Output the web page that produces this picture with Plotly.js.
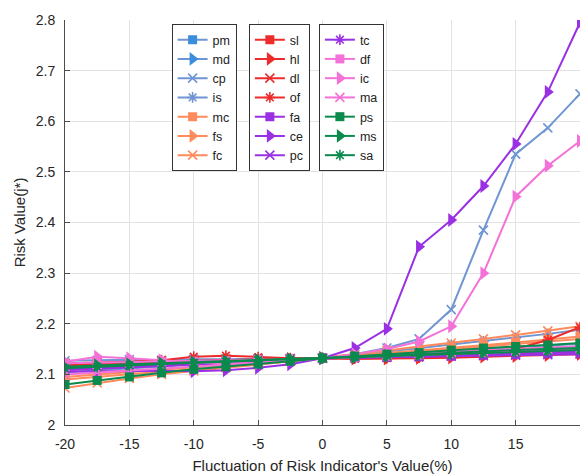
<!DOCTYPE html>
<html>
<head>
<meta charset="utf-8">
<script src="https://cdn.plot.ly/plotly-3.0.1.min.js"></script>
<style>html,body{margin:0;padding:0;background:#fff}#chart{width:587px;height:474px}</style>
</head>
<body>
<div id="chart"></div>
<script>
const xVals = [-20,-17.5,-15,-12.5,-10,-7.5,-5,-2.5,0,2.5,5,7.5,10,12.5,15,17.5,20];
const xTicks = [-20,-15,-10,-5,0,5,10,15,20];
const yTicks = [2,2.1,2.2,2.3,2.4,2.5,2.6,2.7,2.8];

const seriesNames = ["pm","md","cp","is","mc","fs","fc","sl","hl","dl","of","fa","ce","pc","tc","df","ic","ma","ps","ms","sa"];

const pm = [2.115,2.117,2.119,2.121,2.123,2.125,2.127,2.13,2.132,2.135,2.139,2.143,2.147,2.151,2.154,2.157,2.16];
const md = [2.118,2.12,2.122,2.123,2.125,2.127,2.129,2.13,2.132,2.135,2.138,2.141,2.144,2.147,2.15,2.152,2.155];
const cp = [2.127,2.128,2.129,2.128,2.13,2.13,2.131,2.131,2.132,2.14,2.152,2.17,2.228,2.385,2.535,2.587,2.654];
const is = [2.104,2.108,2.112,2.116,2.12,2.123,2.126,2.129,2.132,2.138,2.145,2.152,2.158,2.165,2.172,2.18,2.188];
const mc = [2.095,2.1,2.105,2.11,2.114,2.118,2.122,2.127,2.132,2.137,2.142,2.147,2.152,2.158,2.163,2.169,2.175];
const fs = [2.09,2.095,2.1,2.105,2.11,2.115,2.12,2.126,2.132,2.136,2.141,2.145,2.15,2.155,2.16,2.165,2.17];
const fc = [2.073,2.083,2.092,2.1,2.107,2.113,2.119,2.126,2.132,2.139,2.147,2.155,2.162,2.17,2.178,2.186,2.195];
const sl = [2.12,2.121,2.122,2.124,2.126,2.127,2.129,2.13,2.132,2.133,2.135,2.136,2.138,2.14,2.142,2.143,2.145];
const hl = [2.118,2.119,2.121,2.123,2.125,2.126,2.128,2.13,2.132,2.131,2.131,2.132,2.133,2.135,2.136,2.138,2.14];
const dl = [2.122,2.123,2.124,2.126,2.127,2.128,2.13,2.131,2.132,2.134,2.136,2.138,2.14,2.143,2.145,2.148,2.15];
const of = [2.12,2.122,2.125,2.128,2.135,2.137,2.134,2.132,2.132,2.131,2.132,2.133,2.14,2.145,2.15,2.168,2.193];
const fa = [2.11,2.112,2.114,2.117,2.12,2.123,2.126,2.129,2.132,2.133,2.134,2.135,2.136,2.138,2.139,2.141,2.142];
const ce = [2.105,2.106,2.107,2.107,2.106,2.108,2.113,2.12,2.132,2.152,2.19,2.352,2.405,2.472,2.555,2.658,2.795];
const pc = [2.112,2.114,2.116,2.118,2.121,2.124,2.127,2.13,2.132,2.133,2.134,2.135,2.136,2.137,2.138,2.139,2.14];
const tc = [2.108,2.111,2.114,2.117,2.12,2.123,2.126,2.129,2.132,2.134,2.135,2.137,2.139,2.141,2.142,2.144,2.145];
const df = [2.122,2.123,2.124,2.125,2.126,2.127,2.129,2.13,2.132,2.134,2.136,2.138,2.141,2.143,2.145,2.148,2.15];
const ic = [2.125,2.135,2.132,2.128,2.124,2.122,2.122,2.128,2.132,2.14,2.15,2.165,2.195,2.3,2.451,2.512,2.561];
const ma = [2.1,2.104,2.108,2.112,2.116,2.12,2.124,2.128,2.132,2.135,2.139,2.142,2.145,2.148,2.151,2.153,2.155];
const ps = [2.08,2.088,2.095,2.103,2.11,2.115,2.12,2.126,2.132,2.136,2.14,2.143,2.148,2.152,2.155,2.158,2.162];
const ms = [2.115,2.118,2.12,2.122,2.124,2.126,2.128,2.13,2.132,2.134,2.137,2.14,2.143,2.145,2.148,2.15,2.152];
const sa = [2.112,2.115,2.118,2.12,2.123,2.125,2.128,2.13,2.132,2.134,2.136,2.138,2.14,2.142,2.144,2.146,2.148];

const seriesValues = {pm,md,cp,is,mc,fs,fc,sl,hl,dl,of,fa,ce,pc,tc,df,ic,ma,ps,ms,sa};

const BLUE="#6f95d2", BLUE2="#3a8edb", ORANGE="#ff8a5c", RED="#ee2b2b", PURPLE="#9a30e3", PINK="#f471d8", GREEN="#0b8a4e";
const style = {
  pm:[BLUE,"square",BLUE2,"legend"], md:[BLUE,"triangle-right",BLUE2,"legend"], cp:[BLUE,"x-thin-open",BLUE,"legend"], is:[BLUE,"asterisk-open",BLUE,"legend"],
  mc:[ORANGE,"square",ORANGE,"legend"], fs:[ORANGE,"triangle-right",ORANGE,"legend"], fc:[ORANGE,"x-thin-open",ORANGE,"legend"],
  sl:[RED,"square",RED,"legend2"], hl:[RED,"triangle-right",RED,"legend2"], dl:[RED,"x-thin-open",RED,"legend2"], of:[RED,"asterisk-open",RED,"legend2"],
  fa:[PURPLE,"square",PURPLE,"legend2"], ce:[PURPLE,"triangle-right",PURPLE,"legend2"], pc:[PURPLE,"x-thin-open",PURPLE,"legend2"],
  tc:[PURPLE,"asterisk-open",PURPLE,"legend3"], df:[PINK,"square",PINK,"legend3"], ic:[PINK,"triangle-right",PINK,"legend3"], ma:[PINK,"x-thin-open",PINK,"legend3"],
  ps:[GREEN,"square",GREEN,"legend3"], ms:[GREEN,"triangle-right",GREEN,"legend3"], sa:[GREEN,"asterisk-open",GREEN,"legend3"]
};

const traces = seriesNames.map(n => {
  const [lc, sym, mcol, leg] = style[n];
  const open = sym.indexOf("open") >= 0;
  return {
    x: xVals, y: seriesValues[n], name: n, type: "scatter", mode: "lines+markers", legend: leg,
    line: {color: lc, width: 2},
    marker: {symbol: sym, size: sym === "triangle-right" ? 12 : 9, color: mcol,
             line: {color: mcol, width: open ? 1.6 : 0}}
  };
});

const legBase = {bordercolor: "#333", borderwidth: 1, bgcolor: "#fff", font: {family: "Liberation Sans, Arial, sans-serif", size: 12.5, color: "#222"},
  yanchor: "top", xanchor: "left", tracegroupgap: 0, itemwidth: 30};

const layout = {
  width: 587, height: 474,
  margin: {l: 65, r: 7, t: 20, b: 49},
  paper_bgcolor: "#fff", plot_bgcolor: "#fff",
  font: {family: "Liberation Sans, Arial, sans-serif", size: 14, color: "#262626"},
  showlegend: true,
  legend: Object.assign({}, legBase, {x: 0.207, y: 0.99}),
  legend2: Object.assign({}, legBase, {x: 0.357, y: 0.99}),
  legend3: Object.assign({}, legBase, {x: 0.493, y: 0.99}),
  xaxis: {range: [-20, 20], tickvals: xTicks, ticktext: xTicks.map(String), showgrid: true, gridcolor: "#e3e3e3", gridwidth: 1,
    zeroline: false, showline: true, linecolor: "#4d4d4d", linewidth: 1, ticks: "inside", ticklen: 5, tickcolor: "#4d4d4d",
    ticklabelstandoff: 6,
    tickfont: {size: 14, color: "#262626"},
    title: {text: "Fluctuation of Risk Indicator's Value(%)", font: {size: 15, color: "#262626"}, standoff: 9}},
  yaxis: {range: [2, 2.8], tickvals: yTicks, ticktext: yTicks.map(v => v === 2 ? "2" : v.toFixed(1)), showgrid: true, gridcolor: "#e3e3e3", gridwidth: 1,
    zeroline: false, showline: true, linecolor: "#4d4d4d", linewidth: 1, ticks: "inside", ticklen: 5, tickcolor: "#4d4d4d",
    ticklabelstandoff: 6,
    tickfont: {size: 14, color: "#262626"},
    title: {text: "Risk Value(j*)", font: {size: 15, color: "#262626"}, standoff: 6}}
};

Plotly.newPlot("chart", traces, layout, {displayModeBar: false, staticPlot: true});
</script>
</body>
</html>
